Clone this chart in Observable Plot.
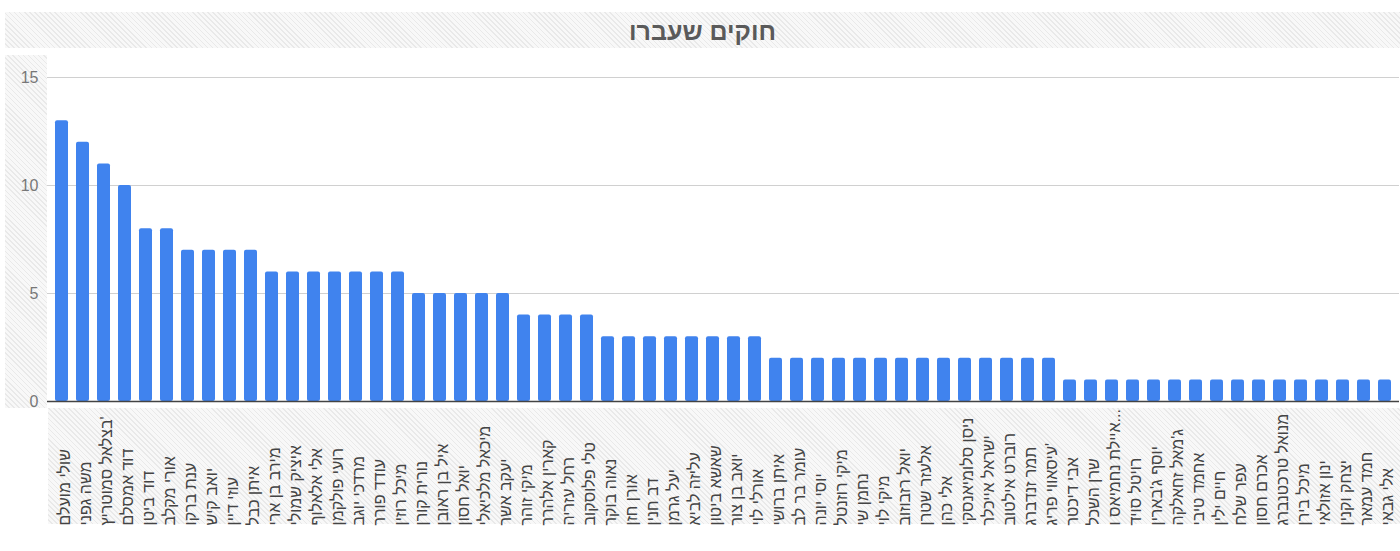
<!DOCTYPE html>
<html lang="he">
<head>
<meta charset="utf-8">
<script src="https://cdn.jsdelivr.net/npm/d3@7"></script>
<script src="https://cdn.jsdelivr.net/npm/@observablehq/plot@0.6"></script>
<style>
  html, body { margin: 0; padding: 0; background: #fff; width: 1400px; height: 551px; overflow: hidden; font-family: "Liberation Sans", Arial, sans-serif; }
  .hatch { position: absolute;
    background: repeating-linear-gradient(45deg, #f8f8f8 0px, #f8f8f8 2.5px, #e9e9e9 2.5px, #e9e9e9 3.6px); }
  .title { position: absolute; left: 5px; top: 12px; width: 1395px; height: 36px; line-height: 38px;
    text-align: center; font-size: 25px; font-weight: bold; color: #5a5a5a; direction: rtl; }
  #chart { position: absolute; left: 0; top: 0; }
</style>
</head>
<body>
<div class="hatch" style="left:5px;top:12px;width:1395px;height:36px"></div>
<div class="hatch" style="left:5px;top:55px;width:42px;height:353px"></div>
<div class="hatch" style="left:48px;top:408px;width:1352px;height:116px"></div>
<div id="chart"></div>
<div class="title">חוקים שעברו</div>
<script>
const names = [
  "שולי מועלם", "משה גפני", "בצלאל סמוטריץ'", "דוד אמסלם", "דוד ביטן", "אורי מקלב",
  "ענת ברקו", "יואב קיש", "עוזי דיין", "איתן כבל", "מירב בן ארי", "איציק שמולי",
  "אלי אלאלוף", "רועי פולקמן", "מרדכי יוגב", "עודד פורר", "מיכל רוזין", "נורית קורן",
  "איל בן ראובן", "יואל חסון", "מיכאל מלכיאלי", "יעקב אשר", "מיקי זוהר", "קארין אלהרר",
  "רחל עזריה", "טלי פלוסקוב", "נאוה בוקר", "אורן חזן", "דב חנין", "יעל גרמן",
  "עליזה לביא", "שאשא ביטון", "יואב בן צור", "אורלי לוי", "איתן ברושי", "עומר בר לב",
  "יוסי יונה", "מיקי רוזנטל", "נחמן שי", "מיקי לוי", "יואל רזבוזוב", "אלעזר שטרן",
  "אלי כהן", "ניסן סלומיאנסקי", "ישראל אייכלר", "רוברט אילטוב", "תמר זנדברג", "עיסאווי פריג'",
  "אבי דיכטר", "שרן השכל", "איילת נחמיאס ו...", "רויטל סויד", "יוסף ג'בארין", "ג'מאל זחאלקה",
  "אחמד טיבי", "חיים ילין", "עפר שלח", "אכרם חסון", "מנואל טרכטנברג", "מיכל בירן",
  "ינון אזולאי", "יצחק וקנין", "חמד עמאר", "אלי גבאי"
];
const laws = [
  13, 12, 11, 10, 8, 8,
  7, 7, 7, 7, 6, 6,
  6, 6, 6, 6, 6, 5,
  5, 5, 5, 5, 4, 4,
  4, 4, 3, 3, 3, 3,
  3, 3, 3, 3, 2, 2,
  2, 2, 2, 2, 2, 2,
  2, 2, 2, 2, 2, 2,
  1, 1, 1, 1, 1, 1,
  1, 1, 1, 1, 1, 1,
  1, 1, 1, 1
];
const yTicks = [0, 5, 10, 15];

const data = names.map((n, i) => ({name: n, value: laws[i]}));

const chart = Plot.plot({
  width: 1400,
  height: 551,
  marginTop: 77,
  marginBottom: 150,
  marginLeft: 47,
  marginRight: 1,
  style: { background: "transparent", fontFamily: "'Liberation Sans', Arial, sans-serif" },
  x: { domain: names, padding: 0.38, axis: null },
  y: { domain: [0, 15], ticks: yTicks, label: null },
  marks: [
    Plot.gridY(yTicks, { stroke: "#d0d0d0", strokeOpacity: 1 }),
    Plot.axisY(yTicks, { tickSize: 0, tickPadding: 9, fontSize: 16, fill: "#777", label: null }),
    Plot.barY(data, { x: "name", y: "value", fill: "#4083ee", rx: 2 }),
    Plot.ruleY([0], { stroke: "#444", strokeWidth: 1.3 }),
    Plot.text(data, {
      x: "name", text: "name", frameAnchor: "bottom", dy: 124, dx: 3,
      rotate: -90, textAnchor: "start", lineAnchor: "middle",
      fontSize: 16, fill: "#444"
    })
  ]
});
document.getElementById("chart").appendChild(chart);
</script>
</body>
</html>
